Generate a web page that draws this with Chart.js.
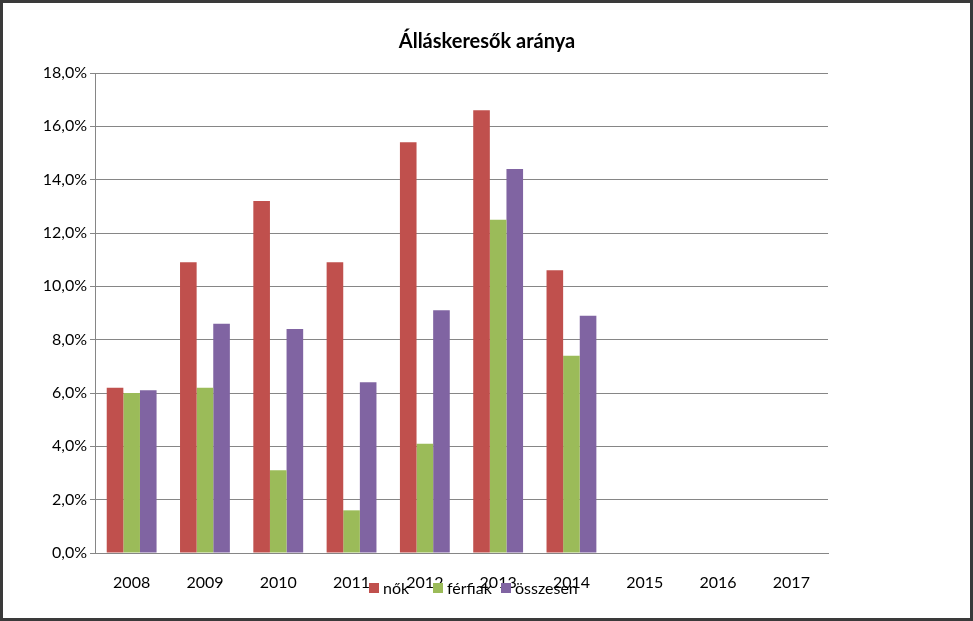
<!DOCTYPE html>
<html>
<head>
<meta charset="utf-8">
<script src="https://cdn.jsdelivr.net/npm/chart.js@4.4.0/dist/chart.umd.min.js"></script>
<style>
  body { margin: 0; background: #fff; }
</style>
</head>
<body>
<canvas id="c" width="973" height="621"></canvas>
<script>
const years = ['2008', '2009', '2010', '2011', '2012', '2013', '2014', '2015', '2016', '2017'];
const nok = [6.2, 10.9, 13.2, 10.9, 15.4, 16.6, 10.6, null, null, null];
const ferfiak = [6.0, 6.2, 3.1, 1.6, 4.1, 12.5, 7.4, null, null, null];
const osszesen = [6.1, 8.6, 8.4, 6.4, 9.1, 14.4, 8.9, null, null, null];
const seriesNames = ['nők', 'férfiak', 'összesen'];
const colors = ['#C0504D', '#9BBB59', '#8064A2'];
const font = "Lato, 'Open Sans', sans-serif";

// cím, keret és a tengelyfeliratokra rálógó jelmagyarázat
const decor = {
    id: 'decor',
    afterDraw(chart) {
        const ctx = chart.ctx;
        ctx.save();
        ctx.strokeStyle = '#3a3a3a';
        ctx.lineWidth = 3;
        ctx.strokeRect(1.5, 1.5, chart.width - 3, chart.height - 3);
        ctx.fillStyle = '#000';
        ctx.font = 'bold 20px ' + font;
        ctx.textAlign = 'center';
        ctx.textBaseline = 'middle';
        ctx.fillText('Álláskeresők aránya', 487, 42);
        const xs = [369, 433, 501];
        ctx.font = '16px ' + font;
        ctx.textAlign = 'left';
        seriesNames.forEach((n, i) => {
            ctx.fillStyle = colors[i];
            ctx.fillRect(xs[i], 583, 10, 10);
            ctx.fillStyle = '#000';
            ctx.fillText(n, xs[i] + 14, 589);
        });
        ctx.restore();
    }
};

new Chart(document.getElementById('c'), {
    type: 'bar',
    data: {
        labels: years,
        datasets: [nok, ferfiak, osszesen].map((d, i) => ({
            label: seriesNames[i],
            data: d,
            backgroundColor: colors[i],
            categoryPercentage: 0.68,
            barPercentage: 1.0
        }))
    },
    options: {
        responsive: false,
        animation: false,
        layout: { padding: { top: 73, right: 145, left: 0, bottom: 0 } },
        plugins: { legend: { display: false }, title: { display: false }, tooltip: { enabled: false } },
        scales: {
            x: {
                grid: { display: false },
                border: { color: '#868686' },
                ticks: { color: '#000', font: { size: 16, family: font }, padding: 12 },
                afterFit: (s) => { s.height = 68; }
            },
            y: {
                min: 0, max: 18,
                ticks: { stepSize: 2, color: '#000', font: { size: 16, family: font },
                    callback: (v) => v.toFixed(1).replace('.', ',') + '%' },
                grid: { color: '#868686', drawTicks: true, tickLength: 5 },
                border: { color: '#868686' },
                afterFit: (s) => { s.width = 95; }
            }
        }
    },
    plugins: [decor]
});
</script>
</body>
</html>
